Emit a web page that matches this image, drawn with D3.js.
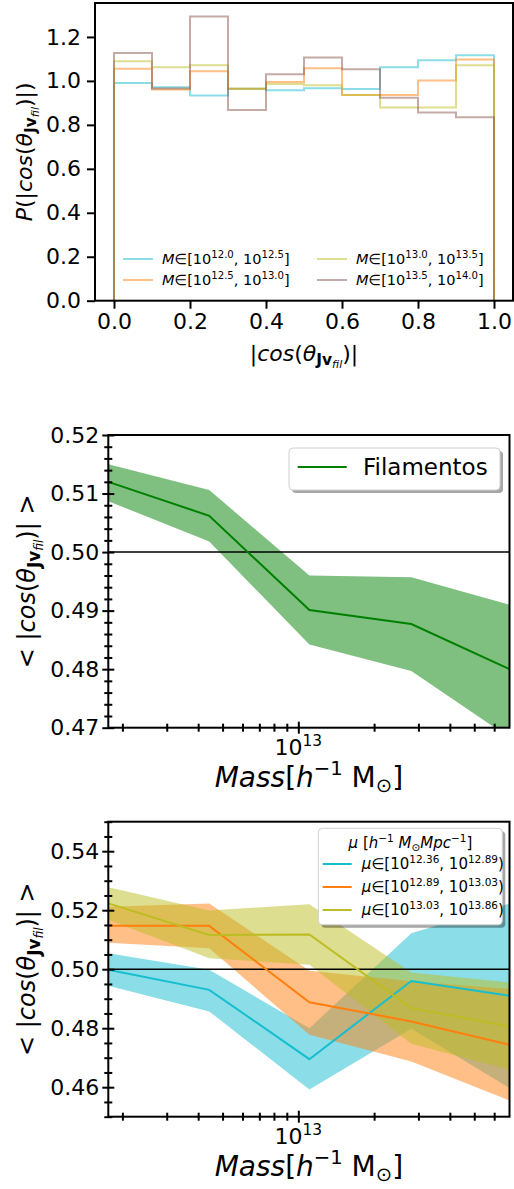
<!DOCTYPE html>
<html>
<head>
<meta charset="utf-8">
<script src="https://cdn.jsdelivr.net/npm/d3@7"></script>
<style>
  body { margin: 0; background: #fff; }
  svg { display: block; }
  text { font-family: "DejaVu Sans", sans-serif; fill: #000; }
</style>
</head>
<body>
<svg id="fig" width="514" height="1189"></svg>
<script>
// ---- data ----
// top panel: normalised histograms of |cos| in 10 bins
const binEdges = [0.0, 0.1, 0.2, 0.3, 0.4, 0.5, 0.6, 0.7, 0.8, 0.9, 1.0];
const histM1 = [0.991, 0.971, 0.934, 0.964, 0.958, 0.967, 0.963, 1.062, 1.094, 1.117];
const histM2 = [1.055, 0.961, 1.044, 0.964, 0.995, 1.058, 0.936, 0.936, 1.002, 1.097];
const histM3 = [1.090, 1.062, 1.071, 0.964, 0.986, 0.980, 0.936, 0.879, 0.879, 1.071];
const histM4 = [1.127, 0.965, 1.293, 0.868, 1.030, 1.106, 1.053, 0.923, 0.856, 0.835];
const histRanges = [["12.0", "12.5"], ["12.5", "13.0"], ["13.0", "13.5"], ["13.5", "14.0"]];
const histColors = ["#17becf", "#ff7f0e", "#bcbd22", "#8c564b"];

// middle + bottom panels: log10 of halo mass per bin
const logMass = [12.245, 12.646, 13.044, 13.449, 13.839];

const filMean = [0.5120, 0.5062, 0.4901, 0.4877, 0.4800];
const filUp   = [0.5150, 0.5106, 0.4960, 0.4957, 0.4910];
const filLo   = [0.5087, 0.5018, 0.4842, 0.4797, 0.4683];

const mu1Mean = [0.4998, 0.4930, 0.4695, 0.4960, 0.4910];
const mu1Up   = [0.5054, 0.4998, 0.4800, 0.5122, 0.5223];
const mu1Lo   = [0.4944, 0.4857, 0.4592, 0.4798, 0.4597];
const mu2Mean = [0.5147, 0.5147, 0.4888, 0.4823, 0.4744];
const mu2Up   = [0.5212, 0.5223, 0.4995, 0.4959, 0.4933];
const mu2Lo   = [0.5090, 0.5071, 0.4778, 0.4687, 0.4555];
const mu3Mean = [0.5223, 0.5116, 0.5118, 0.4868, 0.4806];
const mu3Up   = [0.5278, 0.5199, 0.5220, 0.4989, 0.4955];
const mu3Lo   = [0.5168, 0.5037, 0.5015, 0.4747, 0.4659];
const muRanges = [["12.36", "12.89"], ["12.89", "13.03"], ["13.03", "13.86"]];
const muColors = ["#17becf", "#ff7f0e", "#bcbd22"];

const p1YTicks = [0.0, 0.2, 0.4, 0.6, 0.8, 1.0, 1.2];
const p1XTicks = [0.0, 0.2, 0.4, 0.6, 0.8, 1.0];
const p2YTicks = [0.47, 0.48, 0.49, 0.50, 0.51, 0.52];
const p3YTicks = [0.46, 0.48, 0.50, 0.52, 0.54];

const svg = d3.select("#fig");

// writes mathtext-like strings: [text, style, level] ; level 1 = sub, 2 = subsub, -1 = sup
function mathText(sel, parts, size) {
  let cur = 0;
  parts.forEach(function(p) {
    const t = p[0], st = p[1], lv = p[2];
    const scale = lv === 0 ? 1 : (Math.abs(lv) === 1 ? 0.7 : 0.5);
    const off = lv === 0 ? 0 : lv === 1 ? 0.2 * size : lv === 2 ? 0.33 * size : -0.42 * size;
    const ts = sel.append("tspan").text(t)
      .attr("font-size", size * scale)
      .attr("dy", off - cur);
    if (st.indexOf("i") >= 0) ts.attr("font-style", "italic");
    if (st.indexOf("b") >= 0) ts.attr("font-weight", "bold");
    cur = off;
  });
}

const cosParts = [["cos", "i", 0], ["(", "", 0], ["θ", "i", 0], ["Jv", "b", 1], ["fil", "i", 2]];
const massParts = [["Mass", "i", 0], ["[", "", 0], ["h", "i", 0], ["−1", "", -1], [" M", "", 0], ["⊙", "", 1], ["]", "", 0]];

function frame(g, box) {
  g.append("rect").attr("x", box.l).attr("y", box.t)
    .attr("width", box.r - box.l).attr("height", box.b - box.t)
    .attr("fill", "none").attr("stroke", "#000").attr("stroke-width", 2);
}

// ================= panel 1 =================
const P1 = {l: 95, r: 513, t: 3, b: 300.7};
const x1 = d3.scaleLinear().domain([-0.05, 1.05]).range([P1.l, P1.r]);
const y1 = d3.scaleLinear().domain([0, 1.3545]).range([P1.b, P1.t]);
const g1 = svg.append("g");

const stepLine = d3.line().x(d => x1(d[0])).y(d => y1(d[1]));
[histM1, histM2, histM3, histM4].forEach(function(h, k) {
  const pts = [[binEdges[0], 0]];
  h.forEach(function(v, i) { pts.push([binEdges[i], v]); pts.push([binEdges[i + 1], v]); });
  pts.push([binEdges[binEdges.length - 1], 0]);
  g1.append("path").attr("d", stepLine(pts)).attr("fill", "none")
    .attr("stroke", histColors[k]).attr("stroke-opacity", 0.5).attr("stroke-width", 2);
});

const ax1y = g1.append("g").attr("transform", "translate(" + P1.l + ",0)")
  .call(d3.axisLeft(y1).tickValues(p1YTicks).tickFormat(d3.format(".1f")).tickSize(8).tickPadding(6));
const ax1x = g1.append("g").attr("transform", "translate(0," + P1.b + ")")
  .call(d3.axisBottom(x1).tickValues(p1XTicks).tickFormat(d3.format(".1f")).tickSize(8).tickPadding(5));
[ax1y, ax1x].forEach(function(a) {
  a.select(".domain").remove();
  a.selectAll(".tick line").attr("stroke-width", 2);
  a.selectAll(".tick text").attr("font-size", 22).style("font-family", "DejaVu Sans");
});
frame(g1, P1);

// legend (no frame, two columns)
histRanges.forEach(function(r, k) {
  const col = Math.floor(k / 2), row = k % 2;
  const lx = col === 0 ? 123 : 317, ly = 259 + row * 21;
  g1.append("line").attr("x1", lx).attr("x2", lx + 30).attr("y1", ly).attr("y2", ly)
    .attr("stroke", histColors[k]).attr("stroke-opacity", 0.5).attr("stroke-width", 2);
  const t = g1.append("text").attr("x", lx + 39).attr("y", ly + 5).attr("font-size", 14.5);
  mathText(t, [["M", "i", 0], ["∈[10", "", 0], [r[0], "", -1], [", 10", "", 0], [r[1], "", -1], ["]", "", 0]], 14.5);
});

let t1y = g1.append("text").attr("text-anchor", "middle")
  .attr("transform", "translate(32," + ((P1.t + P1.b) / 2) + ") rotate(-90)");
mathText(t1y, [["P", "i", 0], ["(|", "", 0]].concat(cosParts, [[")|)", "", 0]]), 22);
let t1x = g1.append("text").attr("text-anchor", "middle").attr("x", (P1.l + P1.r) / 2).attr("y", 361);
mathText(t1x, [["|", "", 0]].concat(cosParts, [[")|", "", 0]]), 22);

// ================= panels 2 and 3 =================
const xm = d3.scaleLog().domain(d3.extent(logMass, d => Math.pow(10, d)));
const minorMass = [2e12, 3e12, 4e12, 5e12, 6e12, 7e12, 8e12, 9e12, 2e13, 3e13, 4e13, 5e13, 6e13];

function massPanel(box, yDom, yMajor, yMinorStep, series) {
  const g = svg.append("g");
  const x = xm.copy().range([box.l, box.r]);
  const y = d3.scaleLinear().domain(yDom).range([box.b, box.t]);
  const id = "clip" + Math.round(box.t);
  g.append("clipPath").attr("id", id).append("rect")
    .attr("x", box.l).attr("y", box.t).attr("width", box.r - box.l).attr("height", box.b - box.t);
  const plot = g.append("g").attr("clip-path", "url(#" + id + ")");

  const area = d3.area().x(d => x(Math.pow(10, d[0]))).y0(d => y(d[1])).y1(d => y(d[2]));
  const line = d3.line().x(d => x(Math.pow(10, d[0]))).y(d => y(d[1]));
  series.forEach(function(s) {
    plot.append("path").attr("d", area(logMass.map((m, i) => [m, s.lo[i], s.up[i]])))
      .attr("fill", s.color).attr("fill-opacity", 0.5);
  });
  plot.append("line").attr("x1", box.l).attr("x2", box.r).attr("y1", y(0.5)).attr("y2", y(0.5))
    .attr("stroke", "#000").attr("stroke-width", 1.5);
  series.forEach(function(s) {
    plot.append("path").attr("d", line(logMass.map((m, i) => [m, s.mean[i]])))
      .attr("fill", "none").attr("stroke", s.line).attr("stroke-width", 2);
  });

  // y axis, inout ticks
  const yMinor = d3.range(Math.round(yDom[0] / yMinorStep), Math.round(yDom[1] / yMinorStep) + 1)
    .map(k => k * yMinorStep)
    .filter(v => yMajor.every(m => Math.abs(m - v) > 1e-6));
  const ayMin = g.append("g").attr("transform", "translate(" + box.l + ",0)")
    .call(d3.axisLeft(y).tickValues(yMinor).tickFormat("").tickSize(4));
  ayMin.selectAll(".tick line").attr("x1", 4);
  const ay = g.append("g").attr("transform", "translate(" + box.l + ",0)")
    .call(d3.axisLeft(y).tickValues(yMajor).tickFormat(d3.format(".2f")).tickSize(6).tickPadding(3));
  ay.selectAll(".tick line").attr("x1", 6);

  // x axis, log, inout ticks
  const axMin = g.append("g").attr("transform", "translate(0," + box.b + ")")
    .call(d3.axisBottom(x).tickValues(minorMass).tickFormat("").tickSize(4));
  axMin.selectAll(".tick line").attr("y1", -4);
  const ax = g.append("g").attr("transform", "translate(0," + box.b + ")")
    .call(d3.axisBottom(x).tickValues([1e13]).tickFormat("").tickSize(6));
  ax.selectAll(".tick line").attr("y1", -6);
  const lab = g.append("text").attr("text-anchor", "middle")
    .attr("x", x(1e13)).attr("y", box.b + 27.5).attr("font-size", 22);
  mathText(lab, [["10", "", 0], ["13", "", -1]], 22);

  [ayMin, ay, axMin, ax].forEach(function(a) {
    a.select(".domain").remove();
    a.selectAll(".tick line").attr("stroke-width", 2);
    a.selectAll(".tick text").attr("font-size", 22).style("font-family", "DejaVu Sans");
  });
  frame(g, box);

  const ty = g.append("text").attr("text-anchor", "middle")
    .attr("transform", "translate(35," + ((box.t + box.b) / 2) + ") rotate(-90)");
  mathText(ty, [["< |", "", 0]].concat(cosParts, [[")| >", "", 0]]), 24);
  const tx = g.append("text").attr("text-anchor", "middle")
    .attr("x", (box.l + box.r) / 2).attr("y", box.b + 59);
  mathText(tx, massParts, 28);
  return g;
}

function legendBox(g, x, y, w, h) {
  g.append("rect").attr("x", x + 3).attr("y", y + 3).attr("width", w).attr("height", h)
    .attr("rx", 4).attr("fill", "#000").attr("fill-opacity", 0.35);
  g.append("rect").attr("x", x).attr("y", y).attr("width", w).attr("height", h)
    .attr("rx", 4).attr("fill", "#fff").attr("stroke", "#d0d0d0").attr("stroke-width", 1);
}

// ---- panel 2 ----
const P2 = {l: 108.3, r: 509.5, t: 435, b: 727.7};
const g2 = massPanel(P2, [0.47, 0.52], p2YTicks, 0.002,
  [{mean: filMean, up: filUp, lo: filLo, color: "green", line: "green"}]);
legendBox(g2, 289, 448, 211, 42);
g2.append("line").attr("x1", 297.7).attr("x2", 346.7).attr("y1", 467).attr("y2", 467)
  .attr("stroke", "green").attr("stroke-width", 2);
g2.append("text").attr("x", 363).attr("y", 475).attr("font-size", 23).text("Filamentos");

// ---- panel 3 ----
const P3 = {l: 108.3, r: 509.5, t: 821.7, b: 1116.7};
const muSeries = [
  {mean: mu1Mean, up: mu1Up, lo: mu1Lo},
  {mean: mu2Mean, up: mu2Up, lo: mu2Lo},
  {mean: mu3Mean, up: mu3Up, lo: mu3Lo}
].map((s, k) => Object.assign(s, {color: muColors[k], line: muColors[k]}));
const g3 = massPanel(P3, [0.45, 0.55], p3YTicks, 0.005, muSeries);
legendBox(g3, 318.3, 828.3, 184, 96.5);
const tt = g3.append("text").attr("text-anchor", "middle").attr("x", 410.5).attr("y", 848);
mathText(tt, [["μ", "i", 0], [" [", "", 0], ["h", "i", 0], ["−1", "", -1], [" M", "i", 0], ["⊙", "", 1],
  ["Mpc", "i", 0], ["−1", "", -1], ["]", "", 0]], 15);
muRanges.forEach(function(r, k) {
  const ly = 864 + k * 23;
  g3.append("line").attr("x1", 322.7).attr("x2", 351.7).attr("y1", ly).attr("y2", ly)
    .attr("stroke", muColors[k]).attr("stroke-width", 2);
  const t = g3.append("text").attr("x", 361.7).attr("y", ly + 5);
  mathText(t, [["μ", "i", 0], ["∈[10", "", 0], [r[0], "", -1], [", 10", "", 0], [r[1], "", -1], [")", "", 0]], 15);
});
</script>
</body>
</html>
